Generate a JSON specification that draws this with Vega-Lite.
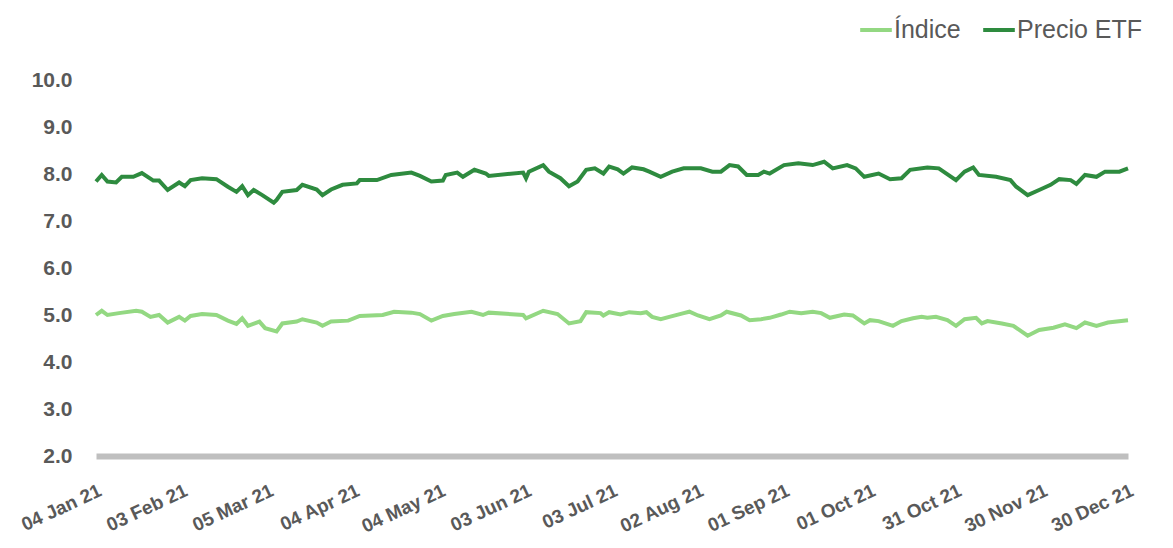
{
  "$schema": "https://vega.github.io/schema/vega-lite/v6.json",
  "width": 1032,
  "height": 376,
  "autosize": {"type": "none"},
  "padding": {"left": 96, "top": 80, "right": 45, "bottom": 92},
  "background": "white",
  "config": {"view": {"stroke": null}, "font": "Liberation Sans"},
  "data": {"values": [
    {"fecha":"2021-01-04","serie":"Índice","valor":5.00},
    {"fecha":"2021-01-06","serie":"Índice","valor":5.09},
    {"fecha":"2021-01-08","serie":"Índice","valor":5.00},
    {"fecha":"2021-01-12","serie":"Índice","valor":5.04},
    {"fecha":"2021-01-18","serie":"Índice","valor":5.09},
    {"fecha":"2021-01-20","serie":"Índice","valor":5.07},
    {"fecha":"2021-01-23","serie":"Índice","valor":4.96},
    {"fecha":"2021-01-26","serie":"Índice","valor":5.00},
    {"fecha":"2021-01-29","serie":"Índice","valor":4.84},
    {"fecha":"2021-02-02","serie":"Índice","valor":4.96},
    {"fecha":"2021-02-04","serie":"Índice","valor":4.88},
    {"fecha":"2021-02-06","serie":"Índice","valor":4.98},
    {"fecha":"2021-02-10","serie":"Índice","valor":5.02},
    {"fecha":"2021-02-15","serie":"Índice","valor":5.00},
    {"fecha":"2021-02-19","serie":"Índice","valor":4.88},
    {"fecha":"2021-02-22","serie":"Índice","valor":4.81},
    {"fecha":"2021-02-24","serie":"Índice","valor":4.93},
    {"fecha":"2021-02-26","serie":"Índice","valor":4.77},
    {"fecha":"2021-03-02","serie":"Índice","valor":4.86},
    {"fecha":"2021-03-04","serie":"Índice","valor":4.72},
    {"fecha":"2021-03-08","serie":"Índice","valor":4.65},
    {"fecha":"2021-03-10","serie":"Índice","valor":4.82},
    {"fecha":"2021-03-15","serie":"Índice","valor":4.86},
    {"fecha":"2021-03-17","serie":"Índice","valor":4.91},
    {"fecha":"2021-03-22","serie":"Índice","valor":4.84},
    {"fecha":"2021-03-24","serie":"Índice","valor":4.77},
    {"fecha":"2021-03-27","serie":"Índice","valor":4.86},
    {"fecha":"2021-04-02","serie":"Índice","valor":4.88},
    {"fecha":"2021-04-06","serie":"Índice","valor":4.98},
    {"fecha":"2021-04-14","serie":"Índice","valor":5.00},
    {"fecha":"2021-04-18","serie":"Índice","valor":5.07},
    {"fecha":"2021-04-24","serie":"Índice","valor":5.05},
    {"fecha":"2021-04-27","serie":"Índice","valor":5.02},
    {"fecha":"2021-05-01","serie":"Índice","valor":4.88},
    {"fecha":"2021-05-05","serie":"Índice","valor":4.98},
    {"fecha":"2021-05-09","serie":"Índice","valor":5.02},
    {"fecha":"2021-05-15","serie":"Índice","valor":5.07},
    {"fecha":"2021-05-19","serie":"Índice","valor":5.00},
    {"fecha":"2021-05-21","serie":"Índice","valor":5.05},
    {"fecha":"2021-06-02","serie":"Índice","valor":5.00},
    {"fecha":"2021-06-03","serie":"Índice","valor":4.93},
    {"fecha":"2021-06-09","serie":"Índice","valor":5.09},
    {"fecha":"2021-06-14","serie":"Índice","valor":5.02},
    {"fecha":"2021-06-18","serie":"Índice","valor":4.82},
    {"fecha":"2021-06-22","serie":"Índice","valor":4.87},
    {"fecha":"2021-06-24","serie":"Índice","valor":5.06},
    {"fecha":"2021-06-29","serie":"Índice","valor":5.04},
    {"fecha":"2021-06-30","serie":"Índice","valor":4.99},
    {"fecha":"2021-07-02","serie":"Índice","valor":5.06},
    {"fecha":"2021-07-06","serie":"Índice","valor":5.01},
    {"fecha":"2021-07-09","serie":"Índice","valor":5.06},
    {"fecha":"2021-07-13","serie":"Índice","valor":5.04},
    {"fecha":"2021-07-15","serie":"Índice","valor":5.06},
    {"fecha":"2021-07-17","serie":"Índice","valor":4.96},
    {"fecha":"2021-07-20","serie":"Índice","valor":4.91},
    {"fecha":"2021-07-23","serie":"Índice","valor":4.96},
    {"fecha":"2021-07-28","serie":"Índice","valor":5.04},
    {"fecha":"2021-07-30","serie":"Índice","valor":5.07},
    {"fecha":"2021-08-02","serie":"Índice","valor":4.99},
    {"fecha":"2021-08-06","serie":"Índice","valor":4.91},
    {"fecha":"2021-08-10","serie":"Índice","valor":4.99},
    {"fecha":"2021-08-12","serie":"Índice","valor":5.07},
    {"fecha":"2021-08-17","serie":"Índice","valor":4.99},
    {"fecha":"2021-08-20","serie":"Índice","valor":4.89},
    {"fecha":"2021-08-24","serie":"Índice","valor":4.91},
    {"fecha":"2021-08-27","serie":"Índice","valor":4.94},
    {"fecha":"2021-08-31","serie":"Índice","valor":5.01},
    {"fecha":"2021-09-03","serie":"Índice","valor":5.07},
    {"fecha":"2021-09-07","serie":"Índice","valor":5.04},
    {"fecha":"2021-09-11","serie":"Índice","valor":5.07},
    {"fecha":"2021-09-14","serie":"Índice","valor":5.04},
    {"fecha":"2021-09-17","serie":"Índice","valor":4.94},
    {"fecha":"2021-09-22","serie":"Índice","valor":5.01},
    {"fecha":"2021-09-25","serie":"Índice","valor":4.99},
    {"fecha":"2021-09-29","serie":"Índice","valor":4.82},
    {"fecha":"2021-10-01","serie":"Índice","valor":4.89},
    {"fecha":"2021-10-04","serie":"Índice","valor":4.87},
    {"fecha":"2021-10-09","serie":"Índice","valor":4.77},
    {"fecha":"2021-10-12","serie":"Índice","valor":4.87},
    {"fecha":"2021-10-16","serie":"Índice","valor":4.93},
    {"fecha":"2021-10-19","serie":"Índice","valor":4.96},
    {"fecha":"2021-10-21","serie":"Índice","valor":4.94},
    {"fecha":"2021-10-24","serie":"Índice","valor":4.96},
    {"fecha":"2021-10-28","serie":"Índice","valor":4.89},
    {"fecha":"2021-10-31","serie":"Índice","valor":4.77},
    {"fecha":"2021-11-03","serie":"Índice","valor":4.91},
    {"fecha":"2021-11-07","serie":"Índice","valor":4.94},
    {"fecha":"2021-11-09","serie":"Índice","valor":4.82},
    {"fecha":"2021-11-11","serie":"Índice","valor":4.87},
    {"fecha":"2021-11-16","serie":"Índice","valor":4.82},
    {"fecha":"2021-11-20","serie":"Índice","valor":4.77},
    {"fecha":"2021-11-25","serie":"Índice","valor":4.56},
    {"fecha":"2021-11-29","serie":"Índice","valor":4.68},
    {"fecha":"2021-12-04","serie":"Índice","valor":4.73},
    {"fecha":"2021-12-08","serie":"Índice","valor":4.80},
    {"fecha":"2021-12-12","serie":"Índice","valor":4.72},
    {"fecha":"2021-12-15","serie":"Índice","valor":4.84},
    {"fecha":"2021-12-19","serie":"Índice","valor":4.77},
    {"fecha":"2021-12-23","serie":"Índice","valor":4.84},
    {"fecha":"2021-12-30","serie":"Índice","valor":4.89},
    {"fecha":"2021-01-04","serie":"Precio ETF","valor":7.84},
    {"fecha":"2021-01-06","serie":"Precio ETF","valor":7.98},
    {"fecha":"2021-01-08","serie":"Precio ETF","valor":7.84},
    {"fecha":"2021-01-11","serie":"Precio ETF","valor":7.82},
    {"fecha":"2021-01-13","serie":"Precio ETF","valor":7.94},
    {"fecha":"2021-01-17","serie":"Precio ETF","valor":7.94},
    {"fecha":"2021-01-20","serie":"Precio ETF","valor":8.02},
    {"fecha":"2021-01-24","serie":"Precio ETF","valor":7.86},
    {"fecha":"2021-01-26","serie":"Precio ETF","valor":7.86},
    {"fecha":"2021-01-29","serie":"Precio ETF","valor":7.66},
    {"fecha":"2021-02-02","serie":"Precio ETF","valor":7.82},
    {"fecha":"2021-02-04","serie":"Precio ETF","valor":7.74},
    {"fecha":"2021-02-06","serie":"Precio ETF","valor":7.87},
    {"fecha":"2021-02-10","serie":"Precio ETF","valor":7.91},
    {"fecha":"2021-02-15","serie":"Precio ETF","valor":7.89},
    {"fecha":"2021-02-19","serie":"Precio ETF","valor":7.73},
    {"fecha":"2021-02-22","serie":"Precio ETF","valor":7.62},
    {"fecha":"2021-02-24","serie":"Precio ETF","valor":7.74},
    {"fecha":"2021-02-26","serie":"Precio ETF","valor":7.55},
    {"fecha":"2021-02-28","serie":"Precio ETF","valor":7.66},
    {"fecha":"2021-03-03","serie":"Precio ETF","valor":7.55},
    {"fecha":"2021-03-07","serie":"Precio ETF","valor":7.39},
    {"fecha":"2021-03-08","serie":"Precio ETF","valor":7.45},
    {"fecha":"2021-03-10","serie":"Precio ETF","valor":7.62},
    {"fecha":"2021-03-15","serie":"Precio ETF","valor":7.66},
    {"fecha":"2021-03-17","serie":"Precio ETF","valor":7.77},
    {"fecha":"2021-03-22","serie":"Precio ETF","valor":7.67},
    {"fecha":"2021-03-24","serie":"Precio ETF","valor":7.55},
    {"fecha":"2021-03-27","serie":"Precio ETF","valor":7.67},
    {"fecha":"2021-03-31","serie":"Precio ETF","valor":7.77},
    {"fecha":"2021-04-05","serie":"Precio ETF","valor":7.80},
    {"fecha":"2021-04-06","serie":"Precio ETF","valor":7.87},
    {"fecha":"2021-04-12","serie":"Precio ETF","valor":7.87},
    {"fecha":"2021-04-17","serie":"Precio ETF","valor":7.98},
    {"fecha":"2021-04-24","serie":"Precio ETF","valor":8.03},
    {"fecha":"2021-04-27","serie":"Precio ETF","valor":7.96},
    {"fecha":"2021-05-01","serie":"Precio ETF","valor":7.84},
    {"fecha":"2021-05-05","serie":"Precio ETF","valor":7.86},
    {"fecha":"2021-05-06","serie":"Precio ETF","valor":7.98},
    {"fecha":"2021-05-10","serie":"Precio ETF","valor":8.03},
    {"fecha":"2021-05-12","serie":"Precio ETF","valor":7.94},
    {"fecha":"2021-05-16","serie":"Precio ETF","valor":8.09},
    {"fecha":"2021-05-20","serie":"Precio ETF","valor":8.01},
    {"fecha":"2021-05-21","serie":"Precio ETF","valor":7.96},
    {"fecha":"2021-06-02","serie":"Precio ETF","valor":8.03},
    {"fecha":"2021-06-03","serie":"Precio ETF","valor":7.91},
    {"fecha":"2021-06-04","serie":"Precio ETF","valor":8.05},
    {"fecha":"2021-06-09","serie":"Precio ETF","valor":8.19},
    {"fecha":"2021-06-11","serie":"Precio ETF","valor":8.05},
    {"fecha":"2021-06-15","serie":"Precio ETF","valor":7.91},
    {"fecha":"2021-06-18","serie":"Precio ETF","valor":7.74},
    {"fecha":"2021-06-21","serie":"Precio ETF","valor":7.84},
    {"fecha":"2021-06-24","serie":"Precio ETF","valor":8.09},
    {"fecha":"2021-06-27","serie":"Precio ETF","valor":8.12},
    {"fecha":"2021-06-30","serie":"Precio ETF","valor":8.01},
    {"fecha":"2021-07-02","serie":"Precio ETF","valor":8.16},
    {"fecha":"2021-07-05","serie":"Precio ETF","valor":8.10},
    {"fecha":"2021-07-07","serie":"Precio ETF","valor":8.01},
    {"fecha":"2021-07-10","serie":"Precio ETF","valor":8.14},
    {"fecha":"2021-07-14","serie":"Precio ETF","valor":8.10},
    {"fecha":"2021-07-16","serie":"Precio ETF","valor":8.05},
    {"fecha":"2021-07-20","serie":"Precio ETF","valor":7.94},
    {"fecha":"2021-07-24","serie":"Precio ETF","valor":8.05},
    {"fecha":"2021-07-28","serie":"Precio ETF","valor":8.12},
    {"fecha":"2021-08-03","serie":"Precio ETF","valor":8.12},
    {"fecha":"2021-08-07","serie":"Precio ETF","valor":8.05},
    {"fecha":"2021-08-10","serie":"Precio ETF","valor":8.05},
    {"fecha":"2021-08-13","serie":"Precio ETF","valor":8.19},
    {"fecha":"2021-08-16","serie":"Precio ETF","valor":8.16},
    {"fecha":"2021-08-19","serie":"Precio ETF","valor":7.98},
    {"fecha":"2021-08-23","serie":"Precio ETF","valor":7.98},
    {"fecha":"2021-08-25","serie":"Precio ETF","valor":8.05},
    {"fecha":"2021-08-27","serie":"Precio ETF","valor":8.01},
    {"fecha":"2021-09-01","serie":"Precio ETF","valor":8.19},
    {"fecha":"2021-09-06","serie":"Precio ETF","valor":8.23},
    {"fecha":"2021-09-11","serie":"Precio ETF","valor":8.19},
    {"fecha":"2021-09-15","serie":"Precio ETF","valor":8.26},
    {"fecha":"2021-09-18","serie":"Precio ETF","valor":8.12},
    {"fecha":"2021-09-23","serie":"Precio ETF","valor":8.19},
    {"fecha":"2021-09-26","serie":"Precio ETF","valor":8.12},
    {"fecha":"2021-09-29","serie":"Precio ETF","valor":7.94},
    {"fecha":"2021-10-04","serie":"Precio ETF","valor":8.01},
    {"fecha":"2021-10-08","serie":"Precio ETF","valor":7.89},
    {"fecha":"2021-10-12","serie":"Precio ETF","valor":7.91},
    {"fecha":"2021-10-15","serie":"Precio ETF","valor":8.09},
    {"fecha":"2021-10-21","serie":"Precio ETF","valor":8.14},
    {"fecha":"2021-10-25","serie":"Precio ETF","valor":8.12},
    {"fecha":"2021-10-31","serie":"Precio ETF","valor":7.87},
    {"fecha":"2021-11-03","serie":"Precio ETF","valor":8.05},
    {"fecha":"2021-11-06","serie":"Precio ETF","valor":8.14},
    {"fecha":"2021-11-08","serie":"Precio ETF","valor":7.98},
    {"fecha":"2021-11-14","serie":"Precio ETF","valor":7.94},
    {"fecha":"2021-11-19","serie":"Precio ETF","valor":7.87},
    {"fecha":"2021-11-21","serie":"Precio ETF","valor":7.73},
    {"fecha":"2021-11-25","serie":"Precio ETF","valor":7.55},
    {"fecha":"2021-11-29","serie":"Precio ETF","valor":7.66},
    {"fecha":"2021-12-03","serie":"Precio ETF","valor":7.77},
    {"fecha":"2021-12-06","serie":"Precio ETF","valor":7.89},
    {"fecha":"2021-12-10","serie":"Precio ETF","valor":7.87},
    {"fecha":"2021-12-12","serie":"Precio ETF","valor":7.79},
    {"fecha":"2021-12-15","serie":"Precio ETF","valor":7.98},
    {"fecha":"2021-12-19","serie":"Precio ETF","valor":7.94},
    {"fecha":"2021-12-22","serie":"Precio ETF","valor":8.05},
    {"fecha":"2021-12-27","serie":"Precio ETF","valor":8.05},
    {"fecha":"2021-12-30","serie":"Precio ETF","valor":8.12}
  ]},
  "mark": {"type": "line", "strokeWidth": 4, "interpolate": "linear"},
  "encoding": {
    "x": {
      "field": "fecha", "type": "temporal",
      "scale": {"type": "utc", "domain": [{"year": 2021, "month": 1, "date": 4, "utc": true}, {"year": 2021, "month": 12, "date": 30, "utc": true}], "nice": false},
      "axis": {
        "title": null, "grid": false, "ticks": false,
        "domainColor": "#BFBFBF", "domainWidth": 6,
        "values": [
          {"year": 2021, "month": 1, "date": 4, "utc": true},
          {"year": 2021, "month": 2, "date": 3, "utc": true},
          {"year": 2021, "month": 3, "date": 5, "utc": true},
          {"year": 2021, "month": 4, "date": 4, "utc": true},
          {"year": 2021, "month": 5, "date": 4, "utc": true},
          {"year": 2021, "month": 6, "date": 3, "utc": true},
          {"year": 2021, "month": 7, "date": 3, "utc": true},
          {"year": 2021, "month": 8, "date": 2, "utc": true},
          {"year": 2021, "month": 9, "date": 1, "utc": true},
          {"year": 2021, "month": 10, "date": 1, "utc": true},
          {"year": 2021, "month": 10, "date": 31, "utc": true},
          {"year": 2021, "month": 11, "date": 30, "utc": true},
          {"year": 2021, "month": 12, "date": 30, "utc": true}
        ],
        "format": "%d %b %y",
        "labelAngle": -25, "labelAlign": "right", "labelBaseline": "top",
        "labelPadding": 25, "labelDx": -4, "labelFontSize": 19, "labelFontWeight": "bold",
        "labelColor": "#595959", "labelOverlap": false, "labelFlush": false, "labelBound": false
      }
    },
    "y": {
      "field": "valor", "type": "quantitative",
      "scale": {"domain": [2, 10], "nice": false, "zero": false},
      "axis": {
        "title": null, "grid": false, "ticks": false, "domain": false,
        "values": [2, 3, 4, 5, 6, 7, 8, 9, 10], "format": ".1f",
        "labelPadding": 24, "labelFontSize": 21, "labelFontWeight": "bold", "labelColor": "#595959"
      }
    },
    "color": {
      "field": "serie", "type": "nominal",
      "scale": {"domain": ["Índice", "Precio ETF"], "range": ["#93D882", "#2E8B3F"]},
      "legend": {
        "title": null, "orient": "none", "legendX": 762, "legendY": -68,
        "direction": "horizontal", "symbolType": "stroke", "symbolStrokeWidth": 4,
        "symbolSize": 1000, "labelFontSize": 25, "labelColor": "#595959",
        "labelOffset": 0, "columnPadding": 14, "labelLimit": 300
      }
    }
  }
}
